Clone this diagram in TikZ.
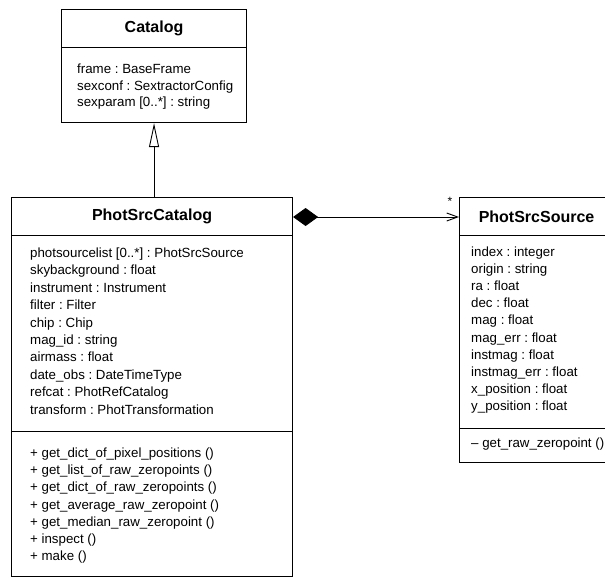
\documentclass[tikz,border=0pt]{standalone}
\usepackage{fontspec}
\setmainfont{Liberation Sans}
\usetikzlibrary{arrows.meta}
\frenchspacing
\begin{document}
\begin{tikzpicture}[x=1pt,y=-1pt,
  box/.style={draw,line width=1.1pt,inner sep=0pt,anchor=north west},
  title/.style={font=\fontsize{16}{18}\selectfont\bfseries,inner sep=0pt},
  attr/.style={font=\fontsize{13.3}{15}\selectfont,inner sep=0pt,anchor=west,text height=9.5pt,text depth=2.5pt},
  conn/.style={line width=0.9pt}
]
\useasboundingbox (0,0) rectangle (605,578);
% Catalog
\node[box,minimum width=185pt,minimum height=38pt] (cath) at (61,9) {};
\node[box,minimum width=185pt,minimum height=75pt] (catb) at (61,47) {};
\node[title] (catt) at (cath.center) {Catalog};
\foreach \t [count=\i from 0] in {frame : BaseFrame,sexconf : SextractorConfig,{sexparam [0..*] : string}}
  \node[attr] (cata\i) at (77,70+\i*16.5) {\t};
% PhotSrcCatalog
\node[box,minimum width=281pt,minimum height=38pt] (psch) at (11,197) {};
\node[box,minimum width=281pt,minimum height=196pt] (psca) at (11,235) {};
\node[box,minimum width=281pt,minimum height=145pt] (pscm) at (11,431) {};
\node[title] (psct) at (psch.center) {PhotSrcCatalog};
\foreach \t [count=\i from 0] in {{photsourcelist [0..*] : PhotSrcSource},skybackground : float,instrument : Instrument,filter : Filter,chip : Chip,mag\_id : string,airmass : float,date\_obs : DateTimeType,refcat : PhotRefCatalog,transform : PhotTransformation}
  \node[attr] (psca\i) at (30,254+\i*17.4) {\t};
\foreach \t [count=\i from 0] in {+ get\_dict\_of\_pixel\_positions (),+ get\_list\_of\_raw\_zeropoints (),+ get\_dict\_of\_raw\_zeropoints (),+ get\_average\_raw\_zeropoint (),+ get\_median\_raw\_zeropoint (),+ inspect (),+ make ()}
  \node[attr] (pscm\i) at (30,454+\i*17.2) {\t};
% PhotSrcSource
\node[box,minimum width=154pt,minimum height=38pt] (pssh) at (459,197) {};
\node[box,minimum width=154pt,minimum height=193pt] (pssa) at (459,235) {};
\node[box,minimum width=154pt,minimum height=34pt] (pssm) at (459,428) {};
\node[title] (psst) at (pssh.center) {PhotSrcSource};
\foreach \t [count=\i from 0] in {index : integer,origin : string,ra : float,dec : float,mag : float,mag\_err : float,instmag : float,instmag\_err : float,x\_position : float,y\_position : float}
  \node[attr] (pssa\i) at (471,253+\i*17.1) {\t};
\node[attr] (pssm0) at (471,444) {– get\_raw\_zeropoint ()};
% generalization
\draw[conn,-{Triangle[open,length=24pt,width=10pt]}] (psch.north -| catb.south) -- (catb.south);
% composition
\coordinate (ctail) at (psch.east |- 0,217);
\coordinate (chead) at (pssh.west |- 0,217);
\draw[conn,{Diamond[length=25pt,width=18pt]}-{Straight Barb[length=11pt,width=8pt,line width=0.9pt]}] (ctail) -- (chead);
\node[inner sep=0pt,font=\fontsize{12}{12}\selectfont] (mult) at (450,201) {*};
\end{tikzpicture}
\end{document}
